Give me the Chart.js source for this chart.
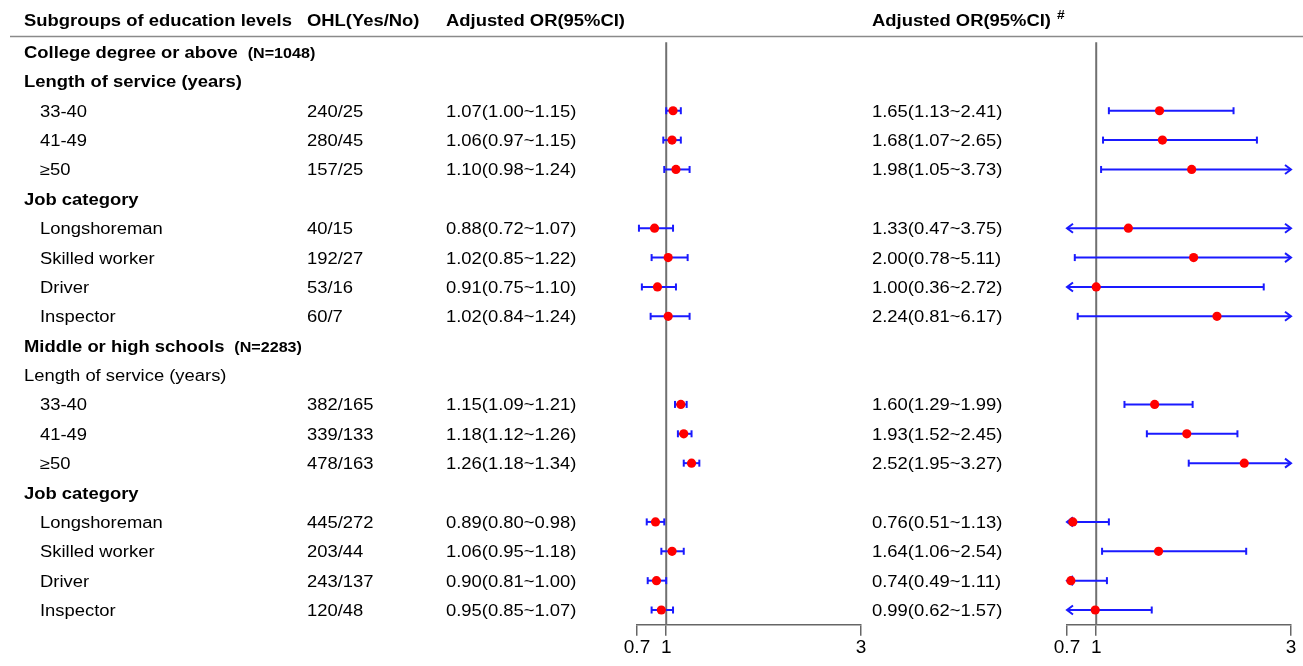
<!DOCTYPE html>
<html>
<head>
<meta charset="utf-8">
<script src="https://cdn.jsdelivr.net/npm/chart.js@4.4.1/dist/chart.umd.min.js"></script>
<style>
  html, body { margin: 0; padding: 0; background: #fff; }
  #wrap { position: relative; width: 1303px; height: 666px; }
  #wrap canvas { position: absolute; left: 0; top: 0; }
</style>
</head>
<body>
<div id="wrap">
  <canvas id="leftChart" width="1303" height="666"></canvas>
  <canvas id="rightChart" width="1303" height="666"></canvas>
</div>
<script>
// ==========================
// DATA
// ==========================
const headers = ["Subgroups of education levels", "OHL(Yes/No)", "Adjusted OR(95%CI)", "Adjusted OR(95%CI)"];

const rowLabels = [
  "College degree or above", "Length of service (years)", "33-40", "41-49", "≥50",
  "Job category", "Longshoreman", "Skilled worker", "Driver", "Inspector",
  "Middle or high schools", "Length of service (years)", "33-40", "41-49", "≥50",
  "Job category", "Longshoreman", "Skilled worker", "Driver", "Inspector",
];
// group = bold + sample size, head = bold, plain = regular heading, item = indented row
const rowKinds = [
  "group", "head", "item", "item", "item", "head", "item", "item", "item", "item",
  "group", "plain", "item", "item", "item", "head", "item", "item", "item", "item",
];
const rowNotes = [
  "(N=1048)", null, null, null, null, null, null, null, null, null,
  "(N=2283)", null, null, null, null, null, null, null, null, null,
];
const ohl = [
  null, null, "240/25", "280/45", "157/25", null, "40/15", "192/27", "53/16", "60/7",
  null, null, "382/165", "339/133", "478/163", null, "445/272", "203/44", "243/137", "120/48",
];

// panel 1 : Adjusted OR(95%CI)
const orA = [null, null, 1.07, 1.06, 1.10, null, 0.88, 1.02, 0.91, 1.02, null, null, 1.15, 1.18, 1.26, null, 0.89, 1.06, 0.90, 0.95];
const loA = [null, null, 1.00, 0.97, 0.98, null, 0.72, 0.85, 0.75, 0.84, null, null, 1.09, 1.12, 1.18, null, 0.80, 0.95, 0.81, 0.85];
const hiA = [null, null, 1.15, 1.15, 1.24, null, 1.07, 1.22, 1.10, 1.24, null, null, 1.21, 1.26, 1.34, null, 0.98, 1.18, 1.00, 1.07];

// panel 2 : Adjusted OR(95%CI) #
const orB = [null, null, 1.65, 1.68, 1.98, null, 1.33, 2.00, 1.00, 2.24, null, null, 1.60, 1.93, 2.52, null, 0.76, 1.64, 0.74, 0.99];
const loB = [null, null, 1.13, 1.07, 1.05, null, 0.47, 0.78, 0.36, 0.81, null, null, 1.29, 1.52, 1.95, null, 0.51, 1.06, 0.49, 0.62];
const hiB = [null, null, 2.41, 2.65, 3.73, null, 3.75, 5.11, 2.72, 6.17, null, null, 1.99, 2.45, 3.27, null, 1.13, 2.54, 1.11, 1.57];

const axisTicks = [0.7, 1, 3];
const axisMin = 0.7;
const axisMax = 3;

// ==========================
// TEXTE
// ==========================
const FONT = "'Liberation Sans', Arial, sans-serif";
const SX = 1.15; // le texte de l'original est un peu étiré en largeur
const colX = [24, 307, 446, 872];
const indentX = 40;

function fmtOR(o, l, h) {
  return `${o.toFixed(2)}(${l.toFixed(2)}~${h.toFixed(2)})`;
}

function drawText(ctx, s, x, y, font) {
  ctx.save();
  ctx.font = font;
  ctx.translate(x, y);
  ctx.scale(SX, 1);
  ctx.fillText(s, 0, 0);
  const w = ctx.measureText(s).width * SX;
  ctx.restore();
  return w;
}

const tablePlugin = {
  id: "tableText",
  afterDraw(chart) {
    const ctx = chart.ctx;
    const yScale = chart.scales.y;
    ctx.save();
    ctx.fillStyle = "#000";
    ctx.textBaseline = "alphabetic";
    ctx.textAlign = "left";

    // ligne sous l'en-tête
    ctx.strokeStyle = "#8a8a8a";
    ctx.lineWidth = 1.5;
    ctx.beginPath();
    ctx.moveTo(10, 36.5);
    ctx.lineTo(1303, 36.5);
    ctx.stroke();

    const bold = `bold 16px ${FONT}`;
    const reg = `16px ${FONT}`;
    drawText(ctx, headers[0], colX[0], 26, bold);
    drawText(ctx, headers[1], colX[1], 26, bold);
    drawText(ctx, headers[2], colX[2], 26, bold);
    const w = drawText(ctx, headers[3], colX[3], 26, bold);
    drawText(ctx, "#", colX[3] + w + 6, 19, `bold 12px ${FONT}`);

    rowLabels.forEach((label, i) => {
      const y = yScale.getPixelForValue(i) + 6;
      const kind = rowKinds[i];
      if (kind === "group") {
        const lw = drawText(ctx, label, colX[0], y, bold);
        if (rowNotes[i]) drawText(ctx, rowNotes[i], colX[0] + lw + 10, y, `bold 14px ${FONT}`);
      } else if (kind === "head") {
        drawText(ctx, label, colX[0], y, bold);
      } else if (kind === "plain") {
        drawText(ctx, label, colX[0], y, reg);
      } else {
        drawText(ctx, label, indentX, y, reg);
        drawText(ctx, ohl[i], colX[1], y, reg);
        drawText(ctx, fmtOR(orA[i], loA[i], hiA[i]), colX[2], y, reg);
        drawText(ctx, fmtOR(orB[i], loB[i], hiB[i]), colX[3], y, reg);
      }
    });
    ctx.restore();
  },
};

// ==========================
// BARRES D'ERREUR (flèches si hors axe)
// ==========================
const errorBarPlugin = {
  id: "errorBars",
  beforeDatasetDraw(chart, args) {
    const ds = chart.data.datasets[args.index];
    if (!ds.lo) return;
    const x = chart.scales.x;
    const y = chart.scales.y;
    const ctx = chart.ctx;
    ctx.save();
    ctx.strokeStyle = "#1a1aff";
    ctx.lineWidth = 2;
    ds.lo.forEach((lo, i) => {
      if (lo == null) return;
      const hi = ds.hi[i];
      const py = y.getPixelForValue(i);
      const xl = x.getPixelForValue(Math.max(lo, x.min));
      const xr = x.getPixelForValue(Math.min(hi, x.max));
      ctx.beginPath();
      ctx.moveTo(xl, py);
      ctx.lineTo(xr, py);
      ctx.stroke();

      ctx.beginPath();
      if (lo < x.min) {
        ctx.moveTo(xl + 6, py - 4.5);
        ctx.lineTo(xl, py);
        ctx.lineTo(xl + 6, py + 4.5);
      } else {
        ctx.moveTo(xl, py - 3.5);
        ctx.lineTo(xl, py + 3.5);
      }
      ctx.stroke();

      ctx.beginPath();
      if (hi > x.max) {
        ctx.moveTo(xr - 6, py - 4.5);
        ctx.lineTo(xr, py);
        ctx.lineTo(xr - 6, py + 4.5);
      } else {
        ctx.moveTo(xr, py - 3.5);
        ctx.lineTo(xr, py + 3.5);
      }
      ctx.stroke();
    });
    ctx.restore();
  },
};

// ==========================
// CHARTS
// ==========================
function makeForest(canvasId, orv, lov, hiv, padLeft, padRight, extraPlugins) {
  const points = [];
  orv.forEach((v, i) => {
    if (v != null) points.push({ x: v, y: i });
  });

  return new Chart(document.getElementById(canvasId), {
    type: "scatter",
    data: {
      datasets: [
        {
          type: "scatter",
          data: points,
          lo: lov,
          hi: hiv,
          pointRadius: 4.6,
          pointBackgroundColor: "#ff0000",
          pointBorderWidth: 0,
          order: 0,
          clip: 8,
        },
        {
          type: "line",
          data: [{ x: 1, y: -0.33 }, { x: 1, y: 19.5 }],
          borderColor: "#707070",
          borderWidth: 2,
          pointRadius: 0,
          order: 2,
          clip: false,
        },
      ],
    },
    options: {
      responsive: false,
      animation: false,
      devicePixelRatio: 1,
      layout: { padding: { left: padLeft, right: padRight, top: 37.3, bottom: 0 } },
      plugins: { legend: { display: false }, tooltip: { enabled: false } },
      scales: {
        x: {
          type: "linear",
          position: "bottom",
          min: axisMin,
          max: axisMax,
          afterBuildTicks: (s) => {
            s.ticks = axisTicks.map((v) => ({ value: v }));
          },
          afterFit: (s) => {
            s.height = 41.3;
          },
          grid: { drawOnChartArea: false, drawTicks: true, tickLength: 11, color: "#666", lineWidth: 1.5 },
          border: { display: true, color: "#666", width: 1.5 },
          ticks: {
            font: { family: FONT, size: 19 },
            color: "#000",
            padding: 1,
            maxRotation: 0,
            autoSkip: false,
            callback: (v) => `${v}`,
          },
        },
        y: { type: "linear", display: false, min: -0.5, max: 19.5, reverse: true },
      },
    },
    plugins: [errorBarPlugin, ...extraPlugins],
  });
}

makeForest("leftChart", orA, loA, hiA, 637, 442, [tablePlugin]);
makeForest("rightChart", orB, loB, hiB, 1067, 12, []);
</script>
</body>
</html>
